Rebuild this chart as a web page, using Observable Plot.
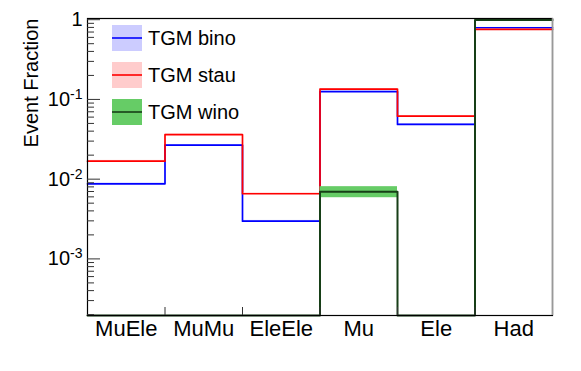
<!DOCTYPE html>
<html><head><meta charset="utf-8">
<script src="https://cdn.jsdelivr.net/npm/d3@7"></script>
<script src="https://cdn.jsdelivr.net/npm/@observablehq/plot@0.6"></script>
<style>
body{margin:0;background:#fff;}
svg{font-family:"Liberation Sans",Arial,Helvetica,sans-serif;}
</style>
</head><body><div id="chart"></div>
<script>
const categories = ["MuEle","MuMu","EleEle","Mu","Ele","Had"];
const seriesNames = ["TGM bino","TGM stau","TGM wino"];
const bino    = [0.00875, 0.0267, 0.00297, 0.125, 0.0486, 0.79];
const binoErr = [0.0002, 0.0005, 0.00007, 0.002, 0.001, 0.01];
const stau    = [0.0168, 0.0361, 0.00656, 0.135, 0.0617, 0.755];
const stauErr = [0.0004, 0.0007, 0.00015, 0.002, 0.0012, 0.01];
const wino    = [0, 0, 0, 0.00695, 0, 0.99];
const winoErr = [0, 0, 0, 0.0011, 0, 0.006];
const yMajorTicks = [1e-3, 1e-2, 1e-1, 1];
const yMajorLabels = ["10^-3", "10^-2", "10^-1", "1"];
const yDomain = [1.95e-4, 1.035];
const yAxisLabel = "Event Fraction";

const lineColors = ["#0000ff", "#ff0000", "#173f17"];
const bandColors = ["#ccccff", "#ffcccc", "#66cc66"];

const yMinorTicks = [];
for (let e = -4; e <= 0; e++) for (let m = 2; m <= 9; m++) {
  const v = m * Math.pow(10, e);
  if (v >= yDomain[0] && v <= yDomain[1]) yMinorTicks.push(v);
}

function steps(vals) {
  const pts = vals.map((v, i) => ({x: i, y: v > 0 ? v : yDomain[0]}));
  pts.push({x: vals.length, y: pts[pts.length - 1].y});
  return pts;
}
function bands(vals, errs) {
  return vals.map((v, i) => ({x1: i, x2: i + 1, y1: v - errs[i], y2: v + errs[i]}))
             .filter((d, i) => vals[i] > 0 && errs[i] > 0);
}

const series = [[bino, binoErr], [stau, stauErr], [wino, winoErr]];
const histMarks = [];
series.forEach(([vals, errs], k) => {
  histMarks.push(Plot.rectY(bands(vals, errs), {x1: "x1", x2: "x2", y1: "y1", y2: "y2", fill: bandColors[k]}));
  histMarks.push(Plot.line(steps(vals), {x: "x", y: "y", curve: "step-after", stroke: lineColors[k], strokeWidth: k === 2 ? 2 : 1.7}));
});

const binCenters = categories.map((c, i) => i + 0.5);
const binEdges = categories.slice(1).map((c, i) => i + 1);

const plot = Plot.plot({
  width: 581, height: 371,
  marginLeft: 87, marginRight: 29, marginTop: 18, marginBottom: 56,
  x: {domain: [0, categories.length], axis: null},
  y: {type: "log", domain: yDomain, axis: null},
  style: {fontFamily: '"Liberation Sans", Arial, sans-serif', background: "#fff"},
  marks: [
    ...histMarks,
    Plot.frame({stroke: "black", strokeWidth: 1.2}),
    Plot.ruleX([categories.length], {stroke: "#999", strokeWidth: 1.5}),
    Plot.axisX({ticks: binCenters, tickSize: 0, tickPadding: 4.5, tickFormat: d => categories[Math.round(d - 0.5)], fontSize: 22, color: "black", label: null}),
    Plot.axisX({ticks: binEdges, tickSize: -8, tickFormat: () => "", label: null, stroke: "#333"}),
    Plot.axisY({ticks: yMinorTicks, tickSize: -7, tickFormat: () => "", label: null, stroke: "#333"}),
    Plot.axisY({ticks: yMajorTicks, tickSize: -13, tickFormat: () => "", label: null, stroke: "#333"}),
    Plot.axisY({ticks: yMajorTicks, tickSize: 0, tickPadding: 5, tickFormat: d => yMajorLabels[yMajorTicks.indexOf(d)], fontSize: 20, color: "black", label: null}),
    Plot.text([yAxisLabel], {frameAnchor: "top-left", rotate: -90, textAnchor: "end", dx: -64, fontSize: 20, fill: "black"})
  ]
});
document.getElementById("chart").appendChild(plot);

// superscripts for tick labels
d3.select(plot).selectAll('g[aria-label="y-axis tick label"] text').each(function() {
  const t = d3.select(this);
  const s = t.text();
  if (s.includes("^")) {
    const [b, e] = s.split("^");
    t.text(null);
    t.append("tspan").text(b);
    t.append("tspan").attr("dy", "-0.5em").attr("font-size", "14px").text(e);
  }
});

// legend
const svg = d3.select(plot);
const lg = svg.append("g");
seriesNames.forEach((name, k) => {
  const y0 = 25 + k * 37;
  lg.append("rect").attr("x", 112).attr("y", y0).attr("width", 30).attr("height", 26).attr("fill", bandColors[k]);
  lg.append("line").attr("x1", 112).attr("x2", 142).attr("y1", y0 + 13).attr("y2", y0 + 13).attr("stroke", lineColors[k]).attr("stroke-width", 1.6);
  lg.append("text").attr("x", 148).attr("y", y0 + 13).attr("dy", "0.35em").attr("text-anchor", "start").attr("font-size", 20).attr("fill", "black").text(name);
});
</script>
</body></html>
